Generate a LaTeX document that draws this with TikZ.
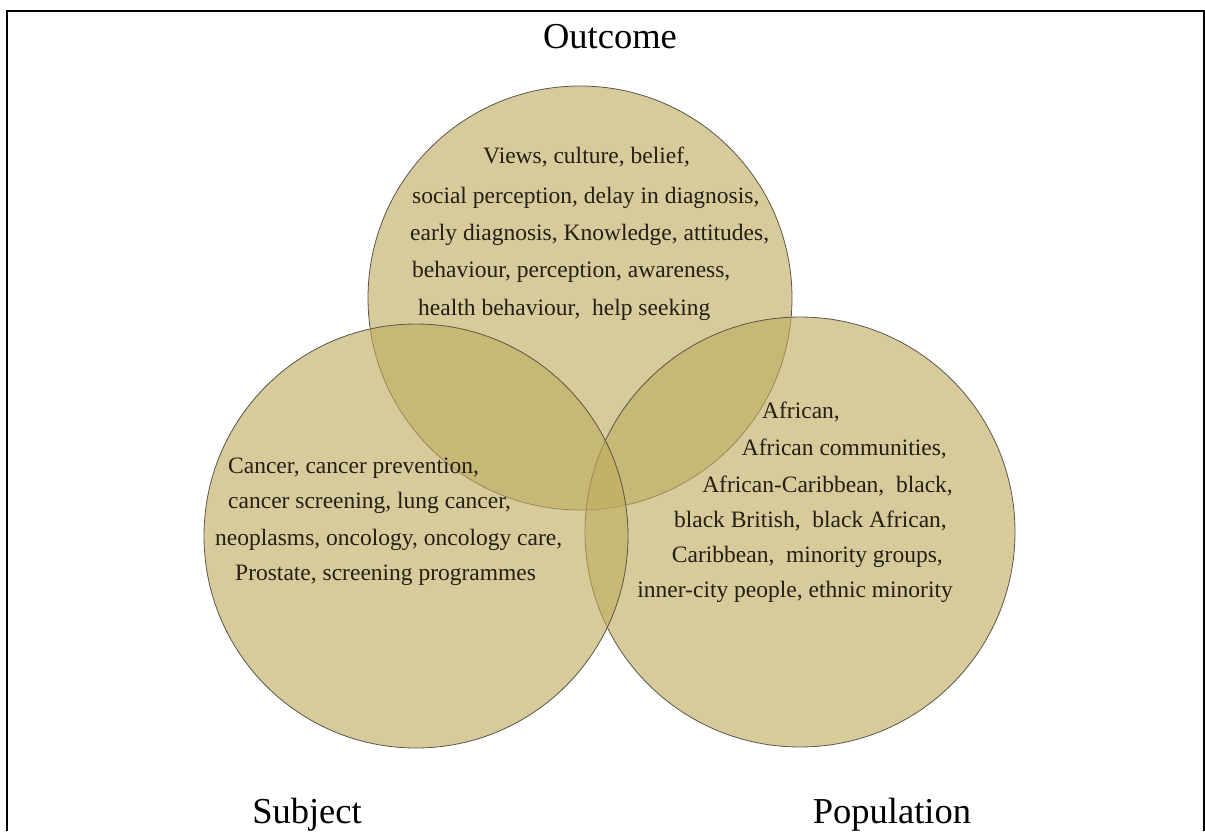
\documentclass[tikz,border=0pt]{standalone}
\usepackage{fontspec}
\setmainfont{Liberation Serif}
\definecolor{vennfill}{RGB}{191,172,95}
\definecolor{vennline}{RGB}{90,86,72}
\definecolor{venntext}{RGB}{36,30,20}
\tikzset{
  setcircle/.style={circle, minimum size=#1, inner sep=0pt, outer sep=0pt,
    fill=vennfill, fill opacity=0.625, draw=vennline, line width=0.8pt},
  termline/.style={inner sep=0pt, text=venntext, font=\fontsize{23.5}{28}\selectfont},
  setlabel/.style={inner sep=0pt, text=black, font=\fontsize{36.5}{40}\selectfont},
  frameline/.style={line width=2pt, draw=black}
}
\begin{document}
\begin{tikzpicture}[x=1pt, y=-1pt]
\useasboundingbox (0,0) rectangle (1205,831);
% page frame
\draw[frameline] (7,831) -- (7,11) -- (1204,11) -- (1204,831);

% the three sets
\node[setcircle=424pt] (outcome) at (580,298) {};
\node[setcircle=430pt] (population) at (800,532) {};
\node[setcircle=424pt] (subject) at (416,536) {};

% Outcome terms
\node[termline, anchor=base west] (o1) at (483,163) {Views, culture, belief,};
\node[termline, anchor=base west] (o2) at (412,203) {social perception, delay in diagnosis,};
\node[termline, anchor=base west] (o3) at (410,240) {early diagnosis, Knowledge, attitudes,};
\node[termline, anchor=base west] (o4) at (412,277) {behaviour, perception, awareness,};
\node[termline, anchor=base west] (o5) at (418,315) {health behaviour,\ \ help seeking};

% Subject terms
\node[termline, anchor=base west] (s1) at (228,473) {Cancer, cancer prevention,};
\node[termline, anchor=base west] (s2) at (228,508) {cancer screening, lung cancer,};
\node[termline, anchor=base west] (s3) at (215,545) {neoplasms, oncology, oncology care,};
\node[termline, anchor=base west] (s4) at (235,580) {Prostate, screening programmes};

% Population terms
\node[termline, anchor=base east] (p1) at (840,418) {African,};
\node[termline, anchor=base east] (p2) at (947,455) {African communities,};
\node[termline, anchor=base east] (p3) at (953,492) {African-Caribbean,\ \ black,};
\node[termline, anchor=base east] (p4) at (947,527) {black British,\ \ black African,};
\node[termline, anchor=base east] (p5) at (943,562) {Caribbean,\ \ minority groups,};
\node[termline, anchor=base east] (p6) at (953,597) {inner-city people, ethnic minority};

% set names
\node[setlabel, anchor=base] (lo) at (610,48) {Outcome};
\node[setlabel, anchor=base] (ls) at (307,823) {Subject};
\node[setlabel, anchor=base] (lp) at (892,823) {Population};
\end{tikzpicture}
\end{document}
